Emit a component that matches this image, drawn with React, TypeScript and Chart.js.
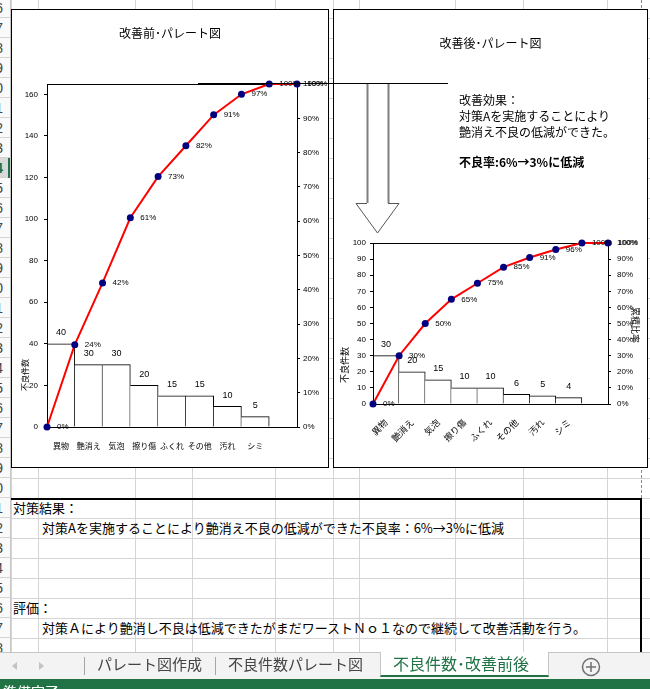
import React, { useEffect, useRef } from 'react';
import { Chart, registerables } from 'chart.js';

Chart.register(...registerables);

// ---------------- data ----------------
const categories = ['異物', '艶消え', '気泡', '擦り傷', 'ふくれ', 'その他', '汚れ', 'シミ'];
const beforeCounts = [40, 30, 30, 20, 15, 15, 10, 5];
const beforeCumPct = [0, 24, 42, 61, 73, 82, 91, 97, 100, 100];
const afterCounts = [30, 20, 15, 10, 10, 6, 5, 4];
const afterCumPct = [0, 30, 50, 65, 75, 85, 91, 96, 100, 100];
const beforeCountMax = 165;
const beforeCountStep = 20;
const afterCountMax = 100;
const afterCountStep = 10;
const pctMax = 100;
const pctStep = 10;

const beforeTitle = '改善前･パレート図';
const afterTitle = '改善後･パレート図';
const countAxisTitle = '不良件数';
const pctAxisTitle = '累積比率';

const effectLines = ['改善効果：', '対策Aを実施することにより', '艶消え不良の低減ができた。'];
const effectBold = '不良率:6%→3%に低減';
const resultHead = '対策結果：';
const resultText = '対策Aを実施することにより艶消え不良の低減ができた不良率：6%→3%に低減';
const evalHead = '評価：';
const evalText = '対策Ａにより艶消し不良は低減できたがまだワーストＮｏ１なので継続して改善活動を行う。';
const sheetTabs = ['パレート図作成', '不良件数パレート図', '不良件数･改善前後'];
const statusText = '準備完了';

// ---------------- styles ----------------
const FONT_NUM = '"Liberation Sans", "Noto Sans CJK JP", sans-serif';
const FONT_JP = '"Noto Sans CJK JP", "Liberation Sans", sans-serif';
const GREEN = '#217346';
const GRID = '#d4d4d4';

const zeroPad = (s: any) => {
  s.paddingLeft = 0;
  s.paddingRight = 0;
  s.paddingTop = 0;
  s.paddingBottom = 0;
};

const paretoDecor = {
  id: 'paretoDecor',
  beforeDatasetDraw(chart: any, args: any) {
    if (args.index !== 1) return;
    const { ctx, chartArea: a } = chart;
    ctx.save();
    ctx.strokeStyle = '#000';
    ctx.lineWidth = 1;
    const l = Math.round(a.left), t = Math.round(a.top), r = Math.round(a.right), b = Math.round(a.bottom);
    ctx.strokeRect(l + 0.5, t + 0.5, r - l, b - t);
    ctx.restore();
  },
  afterDatasetsDraw(chart: any, _args: any, opts: any) {
    const ctx = chart.ctx;
    ctx.save();
    ctx.fillStyle = '#000';
    ctx.textBaseline = 'middle';
    ctx.textAlign = 'center';
    ctx.font = `${opts.barLabelSize}px ${FONT_NUM}`;
    const barMeta = chart.getDatasetMeta(0);
    const barData = chart.data.datasets[0].data;
    barMeta.data.forEach((el: any, i: number) => {
      ctx.fillText(String(barData[i]), el.x, el.y - opts.barLabelGap);
    });
    ctx.textAlign = 'left';
    ctx.font = `${opts.pointLabelSize}px ${FONT_NUM}`;
    const lineMeta = chart.getDatasetMeta(1);
    const lineData = chart.data.datasets[1].data;
    lineMeta.data.forEach((el: any, i: number) => {
      ctx.fillText(lineData[i].y + '%', el.x + opts.pointLabelDx, el.y);
    });
    ctx.restore();
  },
  afterDraw(chart: any, _args: any, opts: any) {
    const ctx = chart.ctx;
    (opts.axisTitles || []).forEach((t: any) => {
      ctx.save();
      ctx.translate(t.x, t.y);
      ctx.rotate(t.rot);
      ctx.fillStyle = '#000';
      ctx.textAlign = 'center';
      ctx.textBaseline = 'middle';
      ctx.font = `${t.size}px ${FONT_JP}`;
      ctx.fillText(t.text, 0, 0);
      ctx.restore();
    });
  },
};

type Geom = {
  width: number;
  height: number;
  yWidth: number;
  y2Width: number;
  xHeight: number;
  titleTop: number;
  titleBottom: number;
  yPad: number;
  y2Pad: number;
  xPad: number;
  rotation: number;
  catSize: number;
  axisTitles: any[];
};

function ParetoChart(props: {
  counts: number[];
  cum: number[];
  countMax: number;
  countStep: number;
  title: string;
  g: Geom;
}) {
  const ref = useRef<HTMLCanvasElement>(null);
  useEffect(() => {
    const { counts, cum, countMax, countStep, title, g } = props;
    const slots = cum.length - 1;
    const labels = Array.from({ length: slots }, (_, i) => categories[i] ?? '');
    const chart = new Chart(ref.current as HTMLCanvasElement, {
      type: 'bar',
      data: {
        labels,
        datasets: [
          {
            type: 'bar',
            data: counts,
            xAxisID: 'x',
            yAxisID: 'y',
            backgroundColor: '#ffffff',
            borderColor: '#000000',
            borderWidth: { top: 1, right: 1, left: 0, bottom: 0 },
            borderSkipped: false,
            barPercentage: 1,
            categoryPercentage: 1,
            grouped: false,
            order: 2,
          } as any,
          {
            type: 'line',
            data: cum.map((v, i) => ({ x: i, y: v })),
            xAxisID: 'x2',
            yAxisID: 'y2',
            borderColor: '#ff0000',
            borderWidth: 2,
            pointRadius: 3.5,
            pointBackgroundColor: '#000080',
            pointBorderColor: '#000080',
            pointBorderWidth: 0,
            tension: 0,
            clip: false,
            order: 1,
          } as any,
        ],
      },
      options: {
        responsive: false,
        animation: false,
        events: [],
        layout: { padding: 0 },
        plugins: {
          legend: { display: false },
          tooltip: { enabled: false },
          title: {
            display: true,
            text: title,
            color: '#000',
            font: { family: FONT_JP, size: 12, weight: 'normal' },
            padding: { top: g.titleTop, bottom: g.titleBottom },
          },
          paretoDecor: {
            barLabelSize: 9,
            barLabelGap: 11,
            pointLabelSize: 8,
            pointLabelDx: 10,
            axisTitles: g.axisTitles,
          },
        } as any,
        scales: {
          x: {
            type: 'category',
            offset: true,
            grid: { display: false, offset: true },
            border: { display: false },
            ticks: {
              autoSkip: false,
              maxRotation: g.rotation,
              minRotation: g.rotation,
              padding: g.xPad,
              color: '#000',
              font: { family: FONT_JP, size: g.catSize },
            },
            afterFit: (s: any) => {
              s.height = g.xHeight;
              zeroPad(s);
            },
          },
          x2: {
            type: 'linear',
            display: false,
            offset: false,
            grid: { offset: false },
            min: 0,
            max: slots,
            afterFit: (s: any) => zeroPad(s),
          },
          y: {
            type: 'linear',
            position: 'left',
            min: 0,
            max: countMax,
            grid: { drawOnChartArea: false, drawTicks: true, tickLength: 3, color: '#000' },
            border: { display: false },
            ticks: {
              stepSize: countStep,
              includeBounds: false,
              padding: g.yPad,
              color: '#000',
              font: { family: FONT_NUM, size: 8 },
            },
            afterFit: (s: any) => {
              s.width = g.yWidth;
              zeroPad(s);
            },
          },
          y2: {
            type: 'linear',
            position: 'right',
            min: 0,
            max: pctMax,
            grid: { drawOnChartArea: false, drawTicks: true, tickLength: 3, color: '#000' },
            border: { display: false },
            ticks: {
              stepSize: pctStep,
              padding: g.y2Pad,
              color: '#000',
              font: { family: FONT_NUM, size: 8 },
              callback: (v: any) => v + '%',
            },
            afterFit: (s: any) => {
              s.width = g.y2Width;
              zeroPad(s);
            },
          },
        } as any,
      },
      plugins: [paretoDecor as any],
    });
    return () => chart.destroy();
  }, []);
  return <canvas ref={ref} width={props.g.width} height={props.g.height} style={{ display: 'block' }} />;
}

const leftGeom: Geom = {
  width: 316,
  height: 457,
  yWidth: 35,
  y2Width: 31,
  xHeight: 40,
  titleTop: 15.8,
  titleBottom: 43.8,
  yPad: 6,
  y2Pad: 3,
  xPad: 6,
  rotation: 0,
  catSize: 8,
  axisTitles: [{ text: countAxisTitle, x: 13, y: 365, rot: -Math.PI / 2, size: 8 }],
};

const rightGeom: Geom = {
  width: 313,
  height: 457,
  yWidth: 39,
  y2Width: 39,
  xHeight: 63,
  titleTop: 25.8,
  titleBottom: 192.8,
  yPad: 4,
  y2Pad: 6,
  xPad: 5,
  rotation: 45,
  catSize: 9,
  axisTitles: [
    { text: countAxisTitle, x: 11, y: 355, rot: -Math.PI / 2, size: 9 },
    { text: pctAxisTitle, x: 301, y: 315, rot: Math.PI / 2, size: 9 },
  ],
};

const colLines = [11, 38, 135, 192, 275, 333, 359, 455, 523, 607];

export default function App() {
  const rowLines: number[] = [];
  for (let y = 18; y < 652; y += 20) rowLines.push(y);
  const rowHeaders: { top: number; digit: number }[] = [];
  for (let k = 0; -2 + 20 * k < 652; k++) rowHeaders.push({ top: -2 + 20 * k, digit: (6 + k) % 10 });

  const abs = (o: any) => ({ position: 'absolute' as const, ...o });

  return (
    <div style={abs({ left: 0, top: 0, width: 650, height: 689, overflow: 'hidden', background: '#fff', fontFamily: FONT_JP })}>
      {/* sheet grid */}
      {rowLines.map((y) => (
        <div key={'r' + y} style={abs({ left: 0, top: y, width: 650, height: 1, background: GRID })} />
      ))}
      {colLines.map((x) => (
        <div key={'c' + x} style={abs({ left: x, top: 0, width: 1, height: 652, background: GRID })} />
      ))}
      <div style={abs({ left: 641, top: 0, width: 0, height: 498, borderLeft: '1px dashed #8a8a8a' })} />

      {/* row header */}
      <div style={abs({ left: 0, top: 0, width: 10, height: 652, overflow: 'hidden', background: '#fafafa' })}>
        {rowHeaders.map((r, i) => (
          <div
            key={'h' + i}
            style={abs({
              left: 0,
              top: r.top,
              width: 10,
              height: 20,
              borderBottom: '1px solid ' + GRID,
              boxSizing: 'border-box',
              background: i === 8 ? '#d9d9d9' : 'transparent',
            })}
          >
            <span
              style={abs({
                right: 7,
                top: 1,
                fontFamily: FONT_NUM,
                fontSize: 14,
                lineHeight: '18px',
                color: i === 8 ? GREEN : '#444',
                fontWeight: i === 8 ? 'bold' : 'normal',
              })}
            >
              {r.digit}
            </span>
          </div>
        ))}
        <div style={abs({ left: 8, top: 158, width: 2, height: 20, background: GREEN })} />
      </div>
      <div style={abs({ left: 10, top: 0, width: 1, height: 652, background: '#c8c8c8' })} />

      {/* bottom text box */}
      <div
        style={abs({
          left: 11,
          top: 498,
          width: 631,
          height: 200,
          borderTop: '2px solid #000',
          borderRight: '2px solid #000',
          boxSizing: 'border-box',
        })}
      />
      <div style={abs({ left: 13, top: 498, fontSize: 13, lineHeight: '20px', color: '#000', whiteSpace: 'pre' })}>{resultHead}</div>
      <div style={abs({ left: 42, top: 518, fontSize: 13, lineHeight: '20px', color: '#000', whiteSpace: 'pre' })}>{resultText}</div>
      <div style={abs({ left: 13, top: 598, fontSize: 13, lineHeight: '20px', color: '#000', whiteSpace: 'pre' })}>{evalHead}</div>
      <div style={abs({ left: 42, top: 618, fontSize: 13, lineHeight: '20px', color: '#000', whiteSpace: 'pre' })}>{evalText}</div>

      {/* chart boxes */}
      <div style={abs({ left: 11, top: 9, width: 318, height: 459, border: '1px solid #000', boxSizing: 'border-box', background: '#fff' })}>
        <ParetoChart counts={beforeCounts} cum={beforeCumPct} countMax={beforeCountMax} countStep={beforeCountStep} title={beforeTitle} g={leftGeom} />
      </div>
      <div style={abs({ left: 333, top: 9, width: 315, height: 459, border: '1px solid #000', boxSizing: 'border-box', background: '#fff' })}>
        <ParetoChart counts={afterCounts} cum={afterCumPct} countMax={afterCountMax} countStep={afterCountStep} title={afterTitle} g={rightGeom} />
      </div>

      {/* connector line and arrow */}
      <svg width={650} height={689} style={abs({ left: 0, top: 0, pointerEvents: 'none' })}>
        <line x1={198} y1={83.5} x2={448} y2={83.5} stroke="#000" strokeWidth={1} />
        <line x1={367.5} y1={84} x2={367.5} y2={203} stroke="#7f7f7f" strokeWidth={2} />
        <line x1={388.5} y1={84} x2={388.5} y2={203} stroke="#7f7f7f" strokeWidth={2} />
        <path d="M367 203.5 L356 203.5 L377.5 233 L399 203.5 L388 203.5" fill="#fff" stroke="#555" strokeWidth={1} />
      </svg>

      {/* effect text box */}
      <div style={abs({ left: 459, top: 92, fontSize: 12, lineHeight: '16px', color: '#000', whiteSpace: 'pre' })}>
        {effectLines.map((l, i) => (
          <div key={i}>{l}</div>
        ))}
      </div>
      <div style={abs({ left: 459, top: 154, fontSize: 12, lineHeight: '16px', fontWeight: 'bold', color: '#000', whiteSpace: 'pre' })}>
        {effectBold}
      </div>

      {/* sheet tab bar */}
      <div style={abs({ left: 0, top: 652, width: 650, height: 27, background: '#f3f3f3', borderTop: '1px solid #c6c6c6', boxSizing: 'border-box' })} />
      <svg width={650} height={30} style={abs({ left: 0, top: 652 })}>
        <polygon points="12,14 17,10 17,18" fill="#c3c3c3" />
        <polygon points="44,14 39,10 39,18" fill="#c3c3c3" />
        <line x1={84.5} y1={5} x2={84.5} y2={23} stroke="#a6a6a6" />
        <line x1={215.5} y1={5} x2={215.5} y2={23} stroke="#a6a6a6" />
        <circle cx={591} cy={15} r={8.5} fill="none" stroke="#6f6f6f" strokeWidth={1.5} />
        <line x1={586} y1={15} x2={596} y2={15} stroke="#6f6f6f" strokeWidth={1.5} />
        <line x1={591} y1={10} x2={591} y2={20} stroke="#6f6f6f" strokeWidth={1.5} />
      </svg>
      <div style={abs({ left: 97, top: 654, fontSize: 15, lineHeight: '20px', color: '#444', whiteSpace: 'pre' })}>{sheetTabs[0]}</div>
      <div style={abs({ left: 228, top: 654, fontSize: 15, lineHeight: '20px', color: '#444', whiteSpace: 'pre' })}>{sheetTabs[1]}</div>
      <div
        style={abs({
          left: 380,
          top: 652,
          width: 169,
          height: 25,
          background: '#fff',
          borderLeft: '1px solid #c6c6c6',
          borderRight: '1px solid #c6c6c6',
          borderBottom: '2px solid ' + GREEN,
          boxSizing: 'border-box',
        })}
      />
      <div style={abs({ left: 393, top: 653, fontSize: 16, lineHeight: '20px', color: GREEN, whiteSpace: 'pre' })}>{sheetTabs[2]}</div>

      {/* status bar */}
      <div style={abs({ left: 0, top: 679, width: 650, height: 10, background: GREEN, overflow: 'hidden' })}>
        <div style={abs({ left: 3, top: 4, fontSize: 14, lineHeight: '16px', color: '#fff', whiteSpace: 'pre' })}>{statusText}</div>
      </div>
    </div>
  );
}
